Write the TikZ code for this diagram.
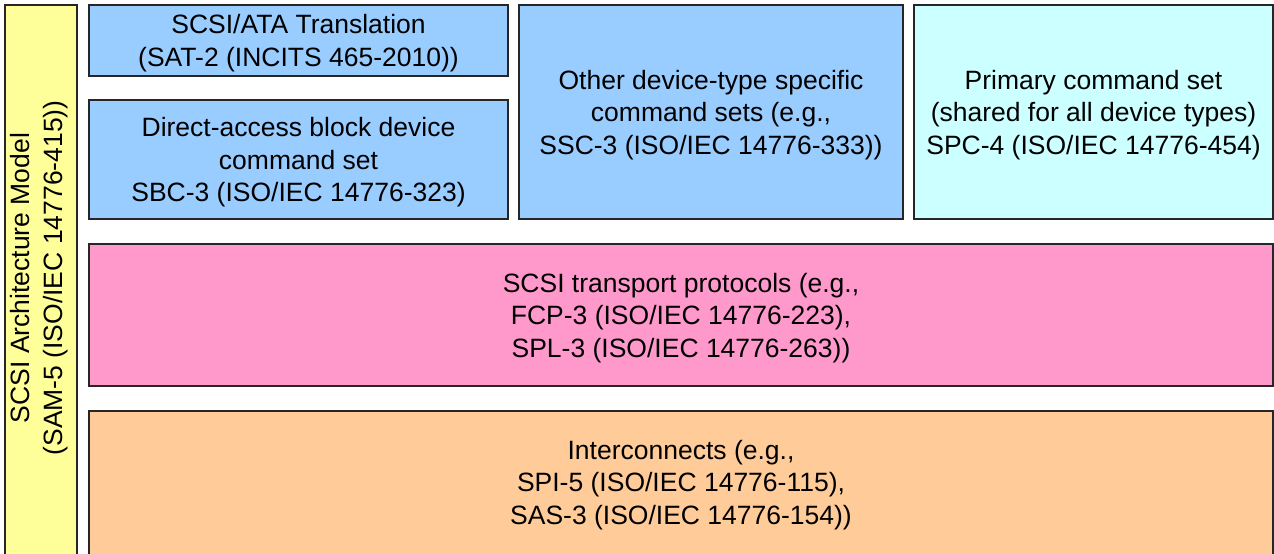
\documentclass[tikz,border=0pt]{standalone}
\usepackage{fontspec}
\setmainfont{Liberation Sans}
\begin{document}
\begin{tikzpicture}[x=1pt,y=-1pt,
  layer/.style={draw=black!85,line width=1.1pt},
  blu/.style={layer,fill={rgb,255:red,153;green,204;blue,255}},
  cya/.style={layer,fill={rgb,255:red,204;green,255;blue,255}},
  pnk/.style={layer,fill={rgb,255:red,255;green,153;blue,204}},
  org/.style={layer,fill={rgb,255:red,255;green,204;blue,153}},
  yel/.style={layer,fill={rgb,255:red,255;green,255;blue,153}},
  txt/.style={align=center,font=\fontsize{26.5}{32.5}\selectfont,inner sep=0pt}]
\useasboundingbox (0,0) rectangle (1274,554);
\begin{scope}
\clip (0,0) rectangle (1274,554);
\draw[yel] (5,5) rectangle (77,570);
\node[txt,rotate=90] (sam) at (39,278) {SCSI Architecture Model\\(SAM-5 (ISO/IEC 14776-415))};
\draw[blu] (89,5) rectangle (508,76);
\node[txt] (sat) at (298.5,43) {SCSI/ATA Translation\\(SAT-2 (INCITS 465-2010))};
\draw[blu] (89,100) rectangle (508,219);
\node[txt] (sbc) at (298.5,162.5) {Direct-access block device\\command set\\SBC-3 (ISO/IEC 14776-323)};
\draw[blu] (519,5) rectangle (903,219);
\node[txt] (ssc) at (711,115) {Other device-type specific\\command sets (e.g.,\\SSC-3 (ISO/IEC 14776-333))};
\draw[cya] (914,5) rectangle (1273,219);
\node[txt] (spc) at (1093.5,115) {Primary command set\\(shared for all device types)\\SPC-4 (ISO/IEC 14776-454)};
\draw[pnk] (89,244) rectangle (1273,386);
\node[txt] (tp) at (681,318) {SCSI transport protocols (e.g.,\\FCP-3 (ISO/IEC 14776-223),\\SPL-3 (ISO/IEC 14776-263))};
\draw[org] (89,411) rectangle (1273,570);
\node[txt] (ic) at (681,485) {Interconnects (e.g.,\\SPI-5 (ISO/IEC 14776-115),\\SAS-3 (ISO/IEC 14776-154))};
\end{scope}
\end{tikzpicture}
\end{document}
